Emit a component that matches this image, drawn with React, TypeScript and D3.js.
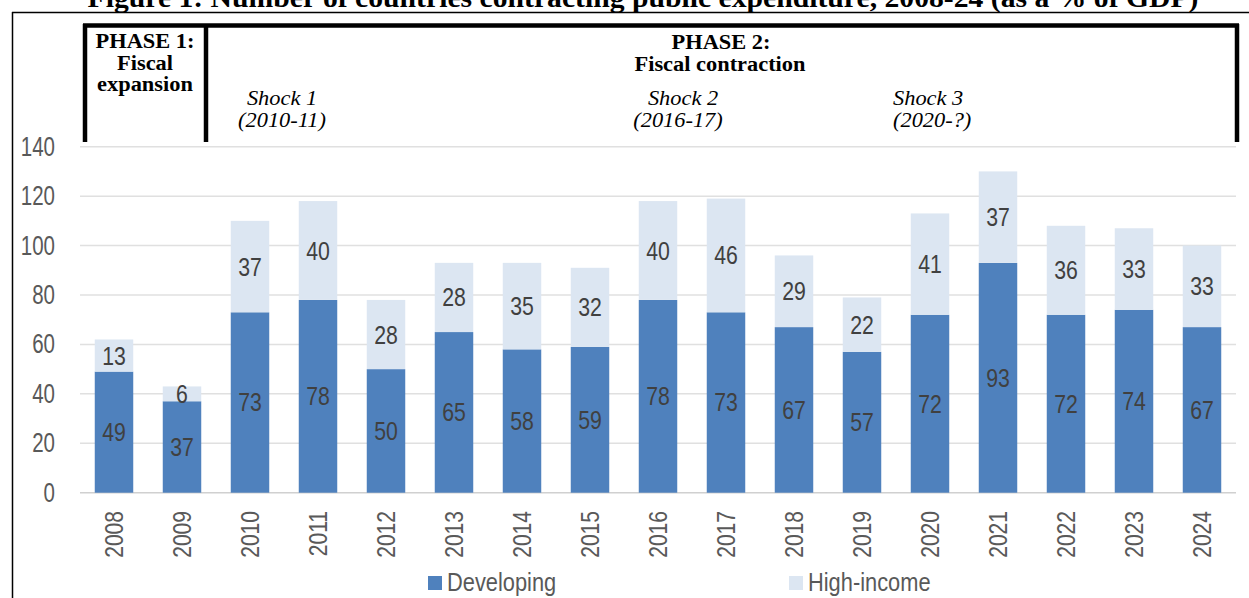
import React from 'react';
import * as d3 from 'd3';

const years = ['2008', '2009', '2010', '2011', '2012', '2013', '2014', '2015', '2016', '2017', '2018', '2019', '2020', '2021', '2022', '2023', '2024'];
const developing = [49, 37, 73, 78, 50, 65, 58, 59, 78, 73, 67, 57, 72, 93, 72, 74, 67];
const highIncome = [13, 6, 37, 40, 28, 28, 35, 32, 40, 46, 29, 22, 41, 37, 36, 33, 33];
const yTicks = [0, 20, 40, 60, 80, 100, 120, 140];
const seriesNames = ['Developing', 'High-income'];
const title = 'Figure 1: Number of countries contracting public expenditure, 2008-24 (as a % of GDP)';

const W = 1249;
const H = 598;
const DEV = '#4f81bd';
const HIGH = '#dce6f2';
const SANS = '"Liberation Sans", Arial, sans-serif';
const SERIF = '"Liberation Serif", "Times New Roman", serif';

// serif text in the reference is a bit wider than Times
const wide = (x: number, y: number) => `translate(${x},${y}) scale(1.12,1)`;

export default function App() {
  const x = d3.scaleBand().domain(years).range([80, 1236]).paddingInner(0.434).paddingOuter(0.217);
  const y = d3.scaleLinear().domain([0, 140]).range([492.7, 146.7]);

  const rows = years.map((yr, i) => ({ year: yr, dev: developing[i], high: highIncome[i] }));
  const stack = d3.stack<any>().keys(['dev', 'high'])(rows);
  const colors = [DEV, HIGH];
  const cx = (yr: string) => (x(yr) as number) + x.bandwidth() / 2;

  return (
    <svg width={W} height={H} style={{ position: 'absolute', left: 0, top: 0, background: '#fff' }}>
      {/* title, cut at the top like the source */}
      <text transform={wide(643, 7)} textAnchor="middle" fontFamily={SERIF} fontWeight="bold" fontSize={26.5}>
        {title}
      </text>
      {/* outer frame */}
      <line x1={12} x2={W} y1={12.5} y2={12.5} stroke="#000" strokeWidth={1.5} />
      <line x1={12.5} x2={12.5} y1={12} y2={H} stroke="#000" strokeWidth={1.5} />

      {/* gridlines */}
      {yTicks.map(t => (
        <line key={t} x1={80} x2={1236} y1={y(t)} y2={y(t)} stroke={t === 0 ? '#d0d0d0' : '#e0e0e0'} strokeWidth={1.5} />
      ))}
      {yTicks.map(t => (
        <text key={'l' + t} transform={`translate(55,${y(t) + 9}) scale(0.76,1)`} textAnchor="end" fontFamily={SANS} fontSize={27} fill="#595959">
          {t}
        </text>
      ))}

      {/* bars */}
      {stack.map((s, si) =>
        s.map((d, i) => (
          <rect key={si + '-' + i} x={x(years[i])} width={x.bandwidth()} y={y(d[1])} height={y(d[0]) - y(d[1])} fill={colors[si]} />
        ))
      )}
      {/* data labels */}
      {stack.map((s, si) =>
        s.map((d, i) => (
          <text
            key={'t' + si + '-' + i}
            transform={`translate(${cx(years[i])},${y((d[0] + d[1]) / 2) + 9}) scale(0.85,1)`}
            textAnchor="middle"
            fontFamily={SANS}
            fontSize={25}
            fill="#404040"
          >
            {d[1] - d[0]}
          </text>
        ))
      )}

      {/* x labels */}
      {years.map(yr => (
        <text
          key={yr}
          transform={`translate(${cx(yr)},511) rotate(-90) scale(0.81,1)`}
          textAnchor="end"
          dominantBaseline="central"
          fontFamily={SANS}
          fontSize={26}
          fill="#595959"
        >
          {yr}
        </text>
      ))}

      {/* legend */}
      <rect x={428} y={576} width={14} height={14} fill={DEV} />
      <text transform="translate(447,591) scale(0.84,1)" fontFamily={SANS} fontSize={26} fill="#595959">{seriesNames[0]}</text>
      <rect x={789} y={576} width={14} height={14} fill={HIGH} />
      <text transform="translate(808,591) scale(0.84,1)" fontFamily={SANS} fontSize={26} fill="#595959">{seriesNames[1]}</text>

      {/* phase box */}
      <g stroke="#000" strokeWidth={4.5} fill="none">
        <line x1={83} x2={1239} y1={25.5} y2={25.5} />
        <line x1={85} x2={85} y1={24} y2={142} />
        <line x1={206} x2={206} y1={24} y2={142} />
        <line x1={1237} x2={1237} y1={24} y2={142} />
      </g>
      <g fontFamily={SERIF} fontWeight="bold" fontSize={20} textAnchor="middle">
        <text transform={wide(145, 48)}>PHASE 1:</text>
        <text transform={wide(145, 69.5)}>Fiscal</text>
        <text transform={wide(145, 91)}>expansion</text>
        <text transform={wide(721, 49)}>PHASE 2:</text>
        <text transform={wide(720, 70.5)}>Fiscal contraction</text>
      </g>
      <g fontFamily={SERIF} fontStyle="italic" fontSize={20}>
        <text transform={wide(282, 105)} textAnchor="middle">Shock 1</text>
        <text transform={wide(282, 127)} textAnchor="middle">(2010-11)</text>
        <text transform={wide(683, 105)} textAnchor="middle">Shock 2</text>
        <text transform={wide(678, 127)} textAnchor="middle">(2016-17)</text>
        <text transform={wide(893, 105)}>Shock 3</text>
        <text transform={wide(893, 127)}>(2020-?)</text>
      </g>
    </svg>
  );
}
